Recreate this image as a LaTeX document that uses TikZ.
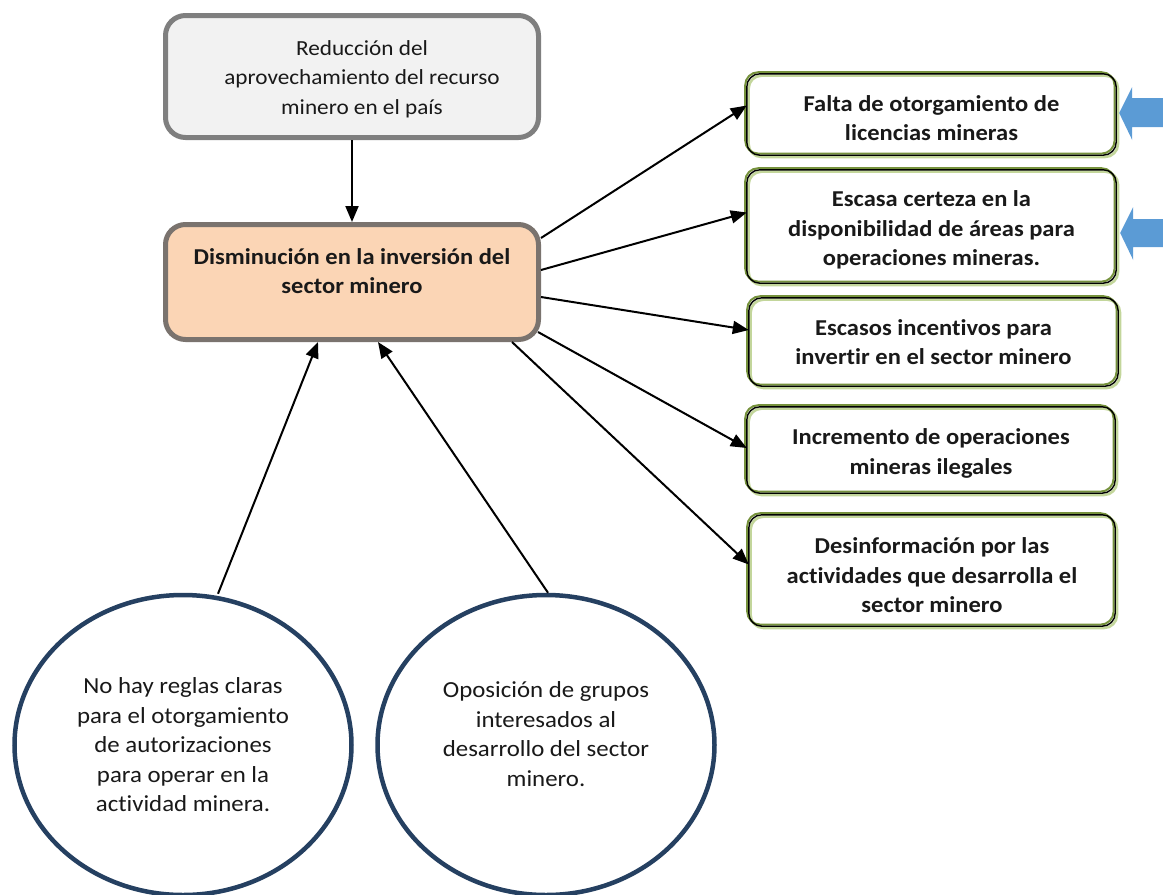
\documentclass[tikz,border=0pt]{standalone}
\usepackage{fontspec}
\setmainfont[FakeStretch=1.08,Ligatures=NoCommon]{Carlito}
\usetikzlibrary{shapes.geometric,arrows.meta,calc}
\definecolor{topfill}{HTML}{F2F2F2}
\definecolor{topdraw}{HTML}{7F7F7F}
\definecolor{midfill}{HTML}{FBD5B5}
\definecolor{middraw}{HTML}{7A736E}
\definecolor{lgreen}{HTML}{C3D69B}
\definecolor{ogreen}{HTML}{76923C}
\definecolor{navy}{HTML}{254061}
\definecolor{arrowblue}{HTML}{5B9BD5}
\newcommand{\lowerfirst}{\rule{0pt}{23pt}}
\begin{document}
\begin{tikzpicture}[x=1pt,y=-1pt,
  txt/.style={font=\fontsize{21.5}{29.5}\selectfont, text=black!90, align=center, inner sep=0pt},
  btxt/.style={font=\bfseries\fontsize{22.7}{29.5}\selectfont, text=black!90, align=center, inner sep=0pt},
  bigbox/.style={rounded corners=20, line width=5pt, inner sep=0pt},
  rbox/.style={btxt, rounded corners=13, fill=white, inner sep=0pt},
  cause/.style={txt, font=\fontsize{23}{29.5}\selectfont, ellipse, draw=navy, line width=4.5pt, fill=white, minimum width=337, minimum height=300},
  conn/.style={line width=2pt, -{Triangle[length=16pt,width=13pt]}}]
\useasboundingbox (0,0) rectangle (1163,895);

% top and middle boxes
\node[bigbox, draw=topdraw, fill=topfill, minimum width=373, minimum height=122] (top) at (352,76.5) {};
\node[txt] (toptext) at (362,79) {Reducción del\\aprovechamiento del recurso\\minero en el país};
\node[bigbox, draw=middraw, fill=midfill, minimum width=373, minimum height=115] (mid) at (352,282) {};
\node[btxt] (midtext) at (352,271) {Disminución en la inversión del\\sector minero};

% right boxes
\node[rbox, minimum width=369, minimum height=81] (b1) at (931.5,114.5) {\lowerfirst Falta de otorgamiento de\\licencias mineras};
\node[rbox, minimum width=369, minimum height=113] (b2) at (931.5,226.5) {\lowerfirst Escasa certeza en la\\disponibilidad de áreas para\\operaciones mineras.};
\node[rbox, minimum width=369, minimum height=88] (b3) at (933.5,342) {Escasos incentivos para\\invertir en el sector minero};
\node[rbox, minimum width=368, minimum height=86] (b4) at (931,450) {\lowerfirst Incremento de operaciones\\mineras ilegales};
\node[rbox, minimum width=366, minimum height=111] (b5) at (932,570.5) {\rule{0pt}{26pt}Desinformación por las\\actividades que desarrolla el\\sector minero};
\foreach \n in {b1,b2,b3,b4,b5}{
  \draw[lgreen, line width=2.6pt, rounded corners=13] ([shift={(1.8,1.8)}]\n.north west) rectangle ([shift={(1.8,1.8)}]\n.south east);
  \draw[ogreen, line width=2pt, rounded corners=13] ([shift={(-1.6,-1.6)}]\n.north west) rectangle ([shift={(-1.6,-1.6)}]\n.south east);
  \draw[black, line width=1.4pt, rounded corners=13] (\n.north west) rectangle (\n.south east);
}

% blue arrows
\fill[arrowblue] ($(b1.east)+(3,-1.5)$) -- ++(13,-26) -- ++(0,11) -- (1163,98) -- (1163,127) -- ($(b1.east)+(16,12.5)$) -- ++(0,13) -- cycle;
\fill[arrowblue] ($(b2.east)+(4,6.5)$) -- ++(13,-26) -- ++(0,12) -- (1163,219) -- (1163,247) -- ($(b2.east)+(17,20.5)$) -- ++(0,13) -- cycle;

% causes
\node[cause] (lc) at (183,745) {No hay reglas claras\\para el otorgamiento\\de autorizaciones\\para operar en la\\actividad minera.};
\node[cause] (rc) at (546,745) {Oposición de grupos\\interesados al\\desarrollo del sector\\minero.\\[-8pt]};

% connectors
\draw[conn] (top.south) -- (mid.north);
\draw[conn] ($(mid.east)+(0,-44)$) -- ($(b1.west)+(0,-9)$);
\draw[conn] ($(mid.east)+(0,-12)$) -- ($(b2.west)+(0,-14)$);
\draw[conn] ($(mid.east)+(0,15)$) -- ($(b3.west)+(0,-12)$);
\draw[conn] ($(mid.south east)+(-3,-10)$) -- ($(b4.west)+(0,-2)$);
\draw[conn] ($(mid.south east)+(-29,0)$) -- ($(b5.west)+(0,-6)$);
\draw[conn] ($(lc.north)+(35,1)$) -- ($(mid.south)+(-34,0)$);
\draw[conn] ($(rc.north)+(2,0)$) -- ($(mid.south)+(26,0)$);
\end{tikzpicture}
\end{document}
